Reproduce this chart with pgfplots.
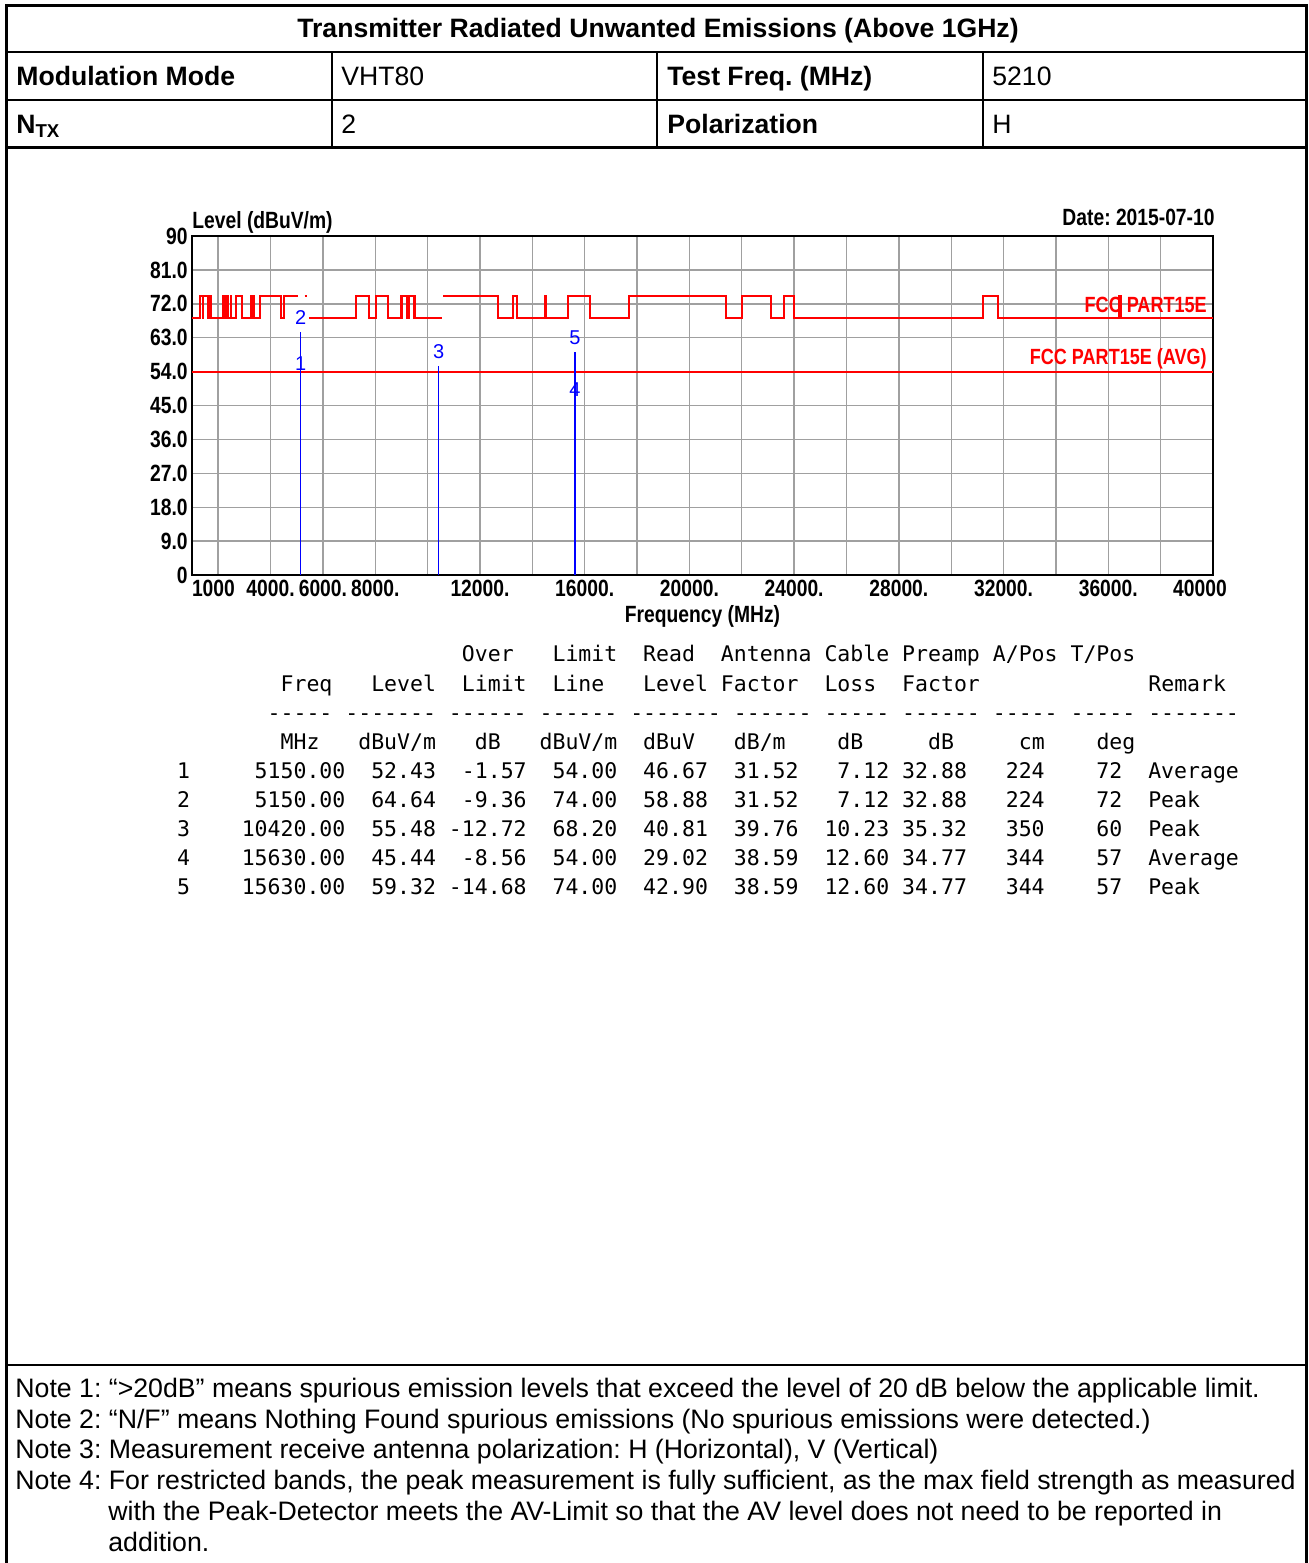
\documentclass[border=0pt]{standalone}
\usepackage{fontspec}
\setmainfont{Liberation Sans}
\setmonofont{DejaVu Sans Mono}
\newfontfamily\narrow[FakeStretch=0.82]{Liberation Sans}
\usepackage{pgfplots}
\pgfplotsset{compat=1.18}
\definecolor{gridgray}{RGB}{160,160,160}
\definecolor{limred}{RGB}{255,0,0}
\definecolor{mkblue}{RGB}{0,0,255}
\newlength\cw
\newcommand\SP[1]{\hspace*{#1\cw}}
\newcommand\tabfont{\ttfamily\fontsize{10.756}{12}\selectfont}
\newcommand\chartfont{\narrow\bfseries\fontsize{11.75}{13}\selectfont}
\newcommand\hdfont{\fontsize{13.3}{15}\selectfont}
\newcommand\notefont{\fontsize{13.35}{15}\selectfont}
\frenchspacing
\begin{document}
\settowidth\cw{\tabfont 0}%
\begin{tikzpicture}
\begin{scope}[x=0.5pt,y=-0.5pt]
\path[use as bounding box] (0,0) rectangle (1309,1563);
% frame
\draw[line width=1.5pt] (6,5.5) -- (1306,5.5);
\draw[line width=1.5pt] (6,4) -- (6,1563);
\draw[line width=1.5pt] (1306,4) -- (1306,1563);
\draw[line width=1pt] (6,52) -- (1306,52);
\draw[line width=1pt] (6,100) -- (1306,100);
\draw[line width=1.3pt] (6,147.5) -- (1306,147.5);
\draw[line width=1pt] (332,52) -- (332,147);
\draw[line width=1pt] (657,52) -- (657,147);
\draw[line width=1pt] (983,52) -- (983,147);
\draw[line width=1.3pt] (6,1365) -- (1306,1365);
% header texts
\begin{scope}[every node/.style={inner sep=0pt}]
\node[anchor=base, font=\bfseries\hdfont] at (658,38) {Transmitter Radiated Unwanted Emissions (Above 1GHz)};
\node[anchor=base west, font=\bfseries\hdfont] at (16,85) {Modulation Mode};
\node[anchor=base west, font=\hdfont] at (341,85) {VHT80};
\node[anchor=base west, font=\bfseries\hdfont] at (667,85) {Test Freq. (MHz)};
\node[anchor=base west, font=\hdfont] at (992,85) {5210};
\node[anchor=base west, font=\bfseries\hdfont] at (16,133) {N\textsubscript{TX}};
\node[anchor=base west, font=\hdfont] at (341,133) {2};
\node[anchor=base west, font=\bfseries\hdfont] at (667,133) {Polarization};
\node[anchor=base west, font=\hdfont] at (992,133) {H};
% data table
\node[anchor=base west, font=\tabfont] at (176.6,661.5) {\SP{22}Over\SP{3}Limit\SP{2}Read\SP{2}Antenna\SP{1}Cable\SP{1}Preamp\SP{1}A/Pos\SP{1}T/Pos};
\node[anchor=base west, font=\tabfont] at (176.6,691.5) {\SP{8}Freq\SP{3}Level\SP{2}Limit\SP{2}Line\SP{3}Level\SP{1}Factor\SP{2}Loss\SP{2}Factor\SP{13}Remark};
\node[anchor=base west, font=\tabfont] at (176.6,720.5) {\SP{7}-----\SP{1}-------\SP{1}------\SP{1}------\SP{1}-------\SP{1}------\SP{1}-----\SP{1}------\SP{1}-----\SP{1}-----\SP{1}-------};
\node[anchor=base west, font=\tabfont] at (176.6,749.5) {\SP{8}MHz\SP{3}dBuV/m\SP{3}dB\SP{3}dBuV/m\SP{2}dBuV\SP{3}dB/m\SP{4}dB\SP{5}dB\SP{5}cm\SP{4}deg};
\node[anchor=base west, font=\tabfont] at (176.6,778.5) {1\SP{5}5150.00\SP{2}52.43\SP{2}-1.57\SP{2}54.00\SP{2}46.67\SP{2}31.52\SP{3}7.12\SP{1}32.88\SP{3}224\SP{4}72\SP{2}Average};
\node[anchor=base west, font=\tabfont] at (176.6,807.5) {2\SP{5}5150.00\SP{2}64.64\SP{2}-9.36\SP{2}74.00\SP{2}58.88\SP{2}31.52\SP{3}7.12\SP{1}32.88\SP{3}224\SP{4}72\SP{2}Peak};
\node[anchor=base west, font=\tabfont] at (176.6,836.5) {3\SP{4}10420.00\SP{2}55.48\SP{1}-12.72\SP{2}68.20\SP{2}40.81\SP{2}39.76\SP{2}10.23\SP{1}35.32\SP{3}350\SP{4}60\SP{2}Peak};
\node[anchor=base west, font=\tabfont] at (176.6,865.5) {4\SP{4}15630.00\SP{2}45.44\SP{2}-8.56\SP{2}54.00\SP{2}29.02\SP{2}38.59\SP{2}12.60\SP{1}34.77\SP{3}344\SP{4}57\SP{2}Average};
\node[anchor=base west, font=\tabfont] at (176.6,894.5) {5\SP{4}15630.00\SP{2}59.32\SP{1}-14.68\SP{2}74.00\SP{2}42.90\SP{2}38.59\SP{2}12.60\SP{1}34.77\SP{3}344\SP{4}57\SP{2}Peak};
% notes
\node[anchor=base west, font=\notefont] at (15,1397.5) {Note 1: “>20dB” means spurious emission levels that exceed the level of 20 dB below the applicable limit.};
\node[anchor=base west, font=\notefont] at (15,1428.5) {Note 2: “N/F” means Nothing Found spurious emissions (No spurious emissions were detected.)};
\node[anchor=base west, font=\notefont] at (15,1458.5) {Note 3: Measurement receive antenna polarization: H (Horizontal), V (Vertical)};
\node[anchor=base west, font=\notefont] at (15,1489.5) {Note 4: For restricted bands, the peak measurement is fully sufficient, as the max field strength as measured};
\node[anchor=base west, font=\notefont] at (108,1520.5) {with the Peak-Detector meets the AV-Limit so that the AV level does not need to be reported in};
\node[anchor=base west, font=\notefont] at (108,1551.5) {addition.};
\end{scope}
\end{scope}
\begin{axis}[
  at={(96pt,-287.5pt)}, anchor=south west,
  scale only axis, width=510.5pt, height=169.5pt,
  xmin=1000, xmax=40000, ymin=0, ymax=90,
  scaled x ticks=false, scaled y ticks=false,
  axis line style={line width=0.9pt, black},
  xtick={1000,4000,6000,8000,12000,16000,20000,24000,28000,32000,36000,40000},
  xticklabels={\makebox[0pt][l]{1000},{4000.},{6000.},{8000.},{12000.},{16000.},{20000.},{24000.},{28000.},{32000.},{36000.},\makebox[0pt]{\kern-13pt 40000}},
  minor xtick={2000,4000,...,38000},
  ytick={0,9,...,90},
  yticklabels={0,9.0,18.0,27.0,36.0,45.0,54.0,63.0,72.0,81.0,90},
  xmajorgrids=false, xminorgrids=true, ymajorgrids=true,
  grid style={gridgray, line width=0.7pt},
  minor grid style={gridgray, line width=0.7pt},
  major tick length=0pt, minor tick length=0pt,
  ticklabel style={font=\chartfont},
  xticklabel style={inner sep=0pt, anchor=north, yshift=-2.5pt},
  yticklabel style={inner sep=0pt, anchor=east, xshift=-2pt},
  xlabel={Frequency (MHz)},
  xlabel style={font=\chartfont, at={(axis description cs:0.5,0)}, anchor=center, yshift=-20.5pt, inner sep=0pt},
  ylabel={Level (dBuV/m)},
  ylabel style={font=\chartfont, rotate=-90, at={(axis description cs:0,1)}, anchor=base west, yshift=4pt, inner sep=0pt},
  title={Date: 2015-07-10},
  title style={font=\chartfont, at={(axis description cs:1,1)}, anchor=base east, yshift=-0.5pt, xshift=1pt, inner sep=0pt},
]
% peak limit (74 in restricted bands, 68.2 elsewhere)
\addplot[limred, line width=1.1pt, mark=none] coordinates {
(1000,68.2) (1300,68.2) (1300,74) (1427,74) (1427,68.2) (1435,68.2) (1435,74) (1626.5,74) (1626.5,68.2) (1645.5,68.2) (1645.5,74) (1646.5,74) (1646.5,68.2) (1660,68.2) (1660,74) (1710,74) (1710,68.2) (1718.8,68.2) (1718.8,74) (1722.2,74) (1722.2,68.2) (2200,68.2) (2200,74) (2300,74) (2300,68.2) (2310,68.2) (2310,74) (2390,74) (2390,68.2) (2483.5,68.2) (2483.5,74) (2500,74) (2500,68.2) (2690,68.2) (2690,74) (2900,74) (2900,68.2) (3260,68.2) (3260,74) (3267,74) (3267,68.2) (3332,68.2) (3332,74) (3339,74) (3339,68.2) (3345.8,68.2) (3345.8,74) (3358,74) (3358,68.2) (3600,68.2) (3600,74) (4400,74) (4400,68.2) (4500,68.2) (4500,74) (5060,74)
};
\addplot[limred, line width=1.1pt, mark=none] coordinates {(5300,74) (5380,74)};
\addplot[limred, line width=1.1pt, mark=none] coordinates {
(5460,68.2) (7250,68.2) (7250,74) (7750,74) (7750,68.2) (8025,68.2) (8025,74) (8500,74) (8500,68.2) (9000,68.2) (9000,74) (9200,74) (9200,68.2) (9300,68.2) (9300,74) (9500,74) (9500,68.2) (10550,68.2)
};
\addplot[limred, line width=1.1pt, mark=none] coordinates {
(10600,74) (12700,74) (12700,68.2) (13250,68.2) (13250,74) (13400,74) (13400,68.2) (14470,68.2) (14470,74) (14500,74) (14500,68.2) (15350,68.2) (15350,74) (16200,74) (16200,68.2) (17700,68.2) (17700,74) (21400,74) (21400,68.2) (22010,68.2) (22010,74) (23120,74) (23120,68.2) (23600,68.2) (23600,74) (24000,74) (24000,68.2) (31200,68.2) (31200,74) (31800,74) (31800,68.2) (36430,68.2) (36430,74) (36500,74) (36500,68.2) (40000,68.2)
};
% average limit
\addplot[limred, line width=1.1pt, mark=none] coordinates {(1000,54) (40000,54)};
\node[anchor=east, inner sep=0pt, text=limred, font=\narrow\bfseries\fontsize{11}{12}\selectfont] at (axis cs:39773,71.7) {FCC PART15E};
\node[anchor=east, inner sep=0pt, text=limred, font=\narrow\bfseries\fontsize{11}{12}\selectfont] at (axis cs:39773,57.3) {FCC PART15E (AVG)};
% markers
\addplot[ycomb, mkblue, line width=0.8pt, mark=none,
  nodes near coords, point meta=explicit symbolic,
  every node near coord/.style={font=\fontsize{10}{12}\selectfont, text=mkblue, anchor=center, yshift=7pt, inner sep=0pt}]
  coordinates {(5150,52.43)[1] (5150,64.64)[2] (10420,55.48)[3] (15630,45.44)[4] (15630,59.32)[5]};
\end{axis}
\end{tikzpicture}
\end{document}
